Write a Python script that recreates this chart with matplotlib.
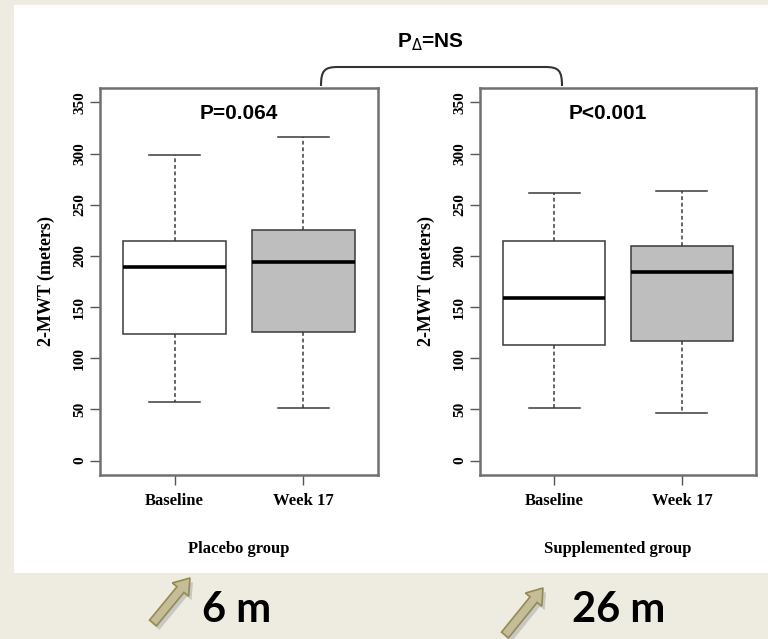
import matplotlib.pyplot as plt
from matplotlib.patches import Rectangle, FancyArrow, PathPatch
from matplotlib.path import Path

# Values (2-MWT, meters)
timepoints = ["Baseline", "Week 17"]
groups = ["Placebo group", "Supplemented group"]
p_values = ["P=0.064", "P<0.001"]
changes = ["6 m", "26 m"]

placebo_whislo = [57, 51]
placebo_q1 = [124, 126]
placebo_med = [189, 194]
placebo_q3 = [215, 225]
placebo_whishi = [299, 316]

supp_whislo = [51, 47]
supp_q1 = [113, 117]
supp_med = [159, 184]
supp_q3 = [215, 210]
supp_whishi = [261, 263]

yticks = [0, 50, 100, 150, 200, 250, 300, 350]

W, H = 768, 639
fig = plt.figure(figsize=(W / 100, H / 100), dpi=100)
fig.patch.set_facecolor("#EEECE1")

# full-figure axes in pixel coords for the slide decorations
bg = fig.add_axes([0, 0, 1, 1], zorder=0)
bg.set_xlim(0, W)
bg.set_ylim(H, 0)
bg.axis("off")
bg.add_patch(Rectangle((14, 5), 754, 568, facecolor="white", edgecolor="none"))

serif = "Liberation Serif"


def panel(rect, whislo, q1, med, q3, whishi, xlabel, ptext, px):
    ax = fig.add_axes(rect, zorder=2)
    stats = []
    for i in range(len(timepoints)):
        stats.append(dict(whislo=whislo[i], q1=q1[i], med=med[i],
                          q3=q3[i], whishi=whishi[i], label=timepoints[i]))
    b = ax.bxp(stats, positions=[1, 2], widths=0.8, capwidths=0.4,
               showfliers=False, patch_artist=True,
               boxprops=dict(edgecolor="#3a3a3a", linewidth=1.1),
               medianprops=dict(color="black", linewidth=2.6),
               whiskerprops=dict(color="#3a3a3a", linewidth=1.1, linestyle=(0, (2.5, 1.8))),
               capprops=dict(color="#3a3a3a", linewidth=1.1))
    b["boxes"][0].set_facecolor("white")
    b["boxes"][1].set_facecolor("#BEBEBE")
    ax.set_xlim(0.42, 2.58)
    ax.set_ylim(-14, 364)
    ax.set_yticks(yticks)
    ax.set_yticklabels([str(v) for v in yticks], rotation=90, va="center",
                       family=serif, fontsize=11, fontweight="bold")
    ax.set_xticks([1, 2])
    ax.set_xticklabels(timepoints, family=serif, fontsize=12, fontweight="bold")
    ax.tick_params(direction="out", length=7, width=1, color="#555555")
    ax.tick_params(axis="y", pad=3)
    ax.tick_params(axis="x", pad=6)
    for s in ax.spines.values():
        s.set_color("#707070")
        s.set_linewidth(1.8)
    ax.set_ylabel("2-MWT (meters)", family=serif, fontsize=13, fontweight="bold", labelpad=13)
    ax.set_xlabel(xlabel, family=serif, fontsize=12, fontweight="bold", labelpad=23)
    ax.text(px, 339, ptext, ha="center", va="center", fontsize=15,
            fontweight="bold", family="Liberation Sans")
    return ax


panel([100 / W, 1 - 475 / H, 278 / W, 387 / H],
      placebo_whislo, placebo_q1, placebo_med, placebo_q3, placebo_whishi,
      groups[0], p_values[0], 1.5)
panel([480 / W, 1 - 475 / H, 276 / W, 387 / H],
      supp_whislo, supp_q1, supp_med, supp_q3, supp_whishi,
      groups[1], p_values[1], 1.42)

# bracket joining the two panels
r = 17
verts = [(321, 86), (321, 67 + r * 0.2), (321 + r * 0.2, 67), (321 + r, 67),
         (562 - r, 67), (562 - r * 0.2, 67), (562, 67 + r * 0.2), (562, 86)]
codes = [Path.MOVETO, Path.CURVE4, Path.CURVE4, Path.CURVE4,
         Path.LINETO, Path.CURVE4, Path.CURVE4, Path.CURVE4]
bg.add_patch(PathPatch(Path(verts, codes), facecolor="none", edgecolor="#333333", lw=1.5))
bg.text(431, 42, r"P$_{\Delta}$=NS", ha="center", va="center", fontsize=15,
        fontweight="bold", family="Liberation Sans")

# arrows and change labels below the panels
arrows = [(153, 623, 37, -45), (505, 635, 38, -47)]
label_x = [202, 572]
for (x0, y0, dx, dy), lx, txt in zip(arrows, label_x, changes):
    bg.add_patch(FancyArrow(x0 + 3, y0 + 4, dx, dy, width=9, head_width=21, head_length=15,
                            length_includes_head=True, facecolor="#9a9a9a", edgecolor="none",
                            alpha=0.45))
    bg.add_patch(FancyArrow(x0, y0, dx, dy, width=9, head_width=21, head_length=15,
                            length_includes_head=True, facecolor="#C4BD97", edgecolor="#948A54",
                            lw=1.2))
    bg.text(lx, 622, txt, ha="left", va="baseline", fontsize=30, fontweight="bold",
            family="Lato")

fig.savefig("out.png", dpi=100, facecolor=fig.get_facecolor())
